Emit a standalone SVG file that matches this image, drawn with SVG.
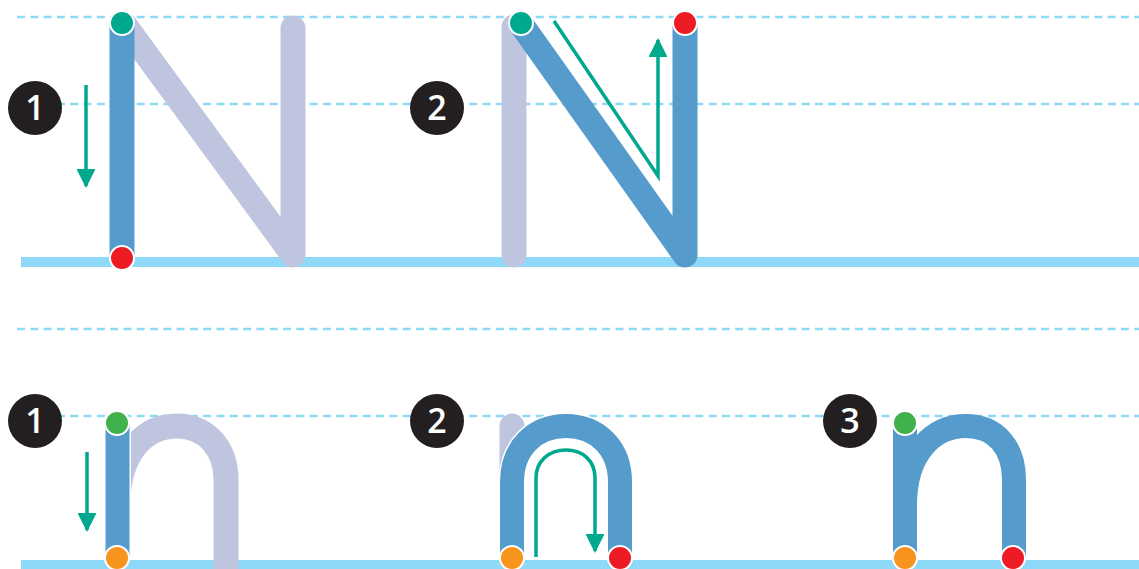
<svg xmlns="http://www.w3.org/2000/svg" width="1139" height="569" viewBox="0 0 1139 569">
<defs>
<style>
.dash{stroke:#8ed8f8;stroke-width:2.6;stroke-dasharray:8 5.3;fill:none}
.base{fill:#8ed8f8}
.lav{stroke:#c0c5df;stroke-width:25;fill:none;stroke-linecap:round;stroke-linejoin:round}
.blue{stroke:#559bcb;stroke-width:25;fill:none;stroke-linecap:round;stroke-linejoin:round}
.bluef{stroke:#559bcb;stroke-width:24;fill:none;stroke-linecap:butt;stroke-linejoin:round}
.arr{stroke:#00a88e;stroke-width:3.5;fill:none}
.dot{stroke:#fff;stroke-width:2}
.num{fill:#231f20}
.numt{fill:#fff;font-family:"Open Sans","Liberation Sans",sans-serif;font-weight:600;font-size:34px;text-anchor:middle}
</style>
<marker id="ah" viewBox="0 0 10 10" refX="9" refY="5" markerWidth="5.6" markerHeight="5.4" orient="auto" markerUnits="strokeWidth">
<path d="M0,0 L10,5 L0,10 Z" fill="#00a88e"/>
</marker>
</defs>
<g id="guides">
<line class="dash" x1="17" y1="17" x2="1139" y2="17"/>
<line class="dash" x1="17" y1="104" x2="1139" y2="104"/>
<rect class="base" x="21" y="257" width="1118" height="10"/>
<line class="dash" x1="17" y1="329" x2="1139" y2="329"/>
<line class="dash" x1="17" y1="416" x2="1139" y2="416"/>
<rect class="base" x="21" y="560" width="1118" height="9"/>
</g>
<g id="N1">
<path class="lav" d="M124,24 L293,255 L293,28"/>
<line class="blue" x1="122" y1="24" x2="122" y2="257" style="stroke-linecap:butt"/>
<circle class="dot" cx="122" cy="23" r="12" fill="#00a88e"/>
<circle class="dot" cx="122" cy="258" r="12" fill="#ed1c24"/>
<circle class="num" cx="35" cy="108" r="27"/>
<text class="numt" x="35" y="120">1</text>
</g>
<g id="N2">
<line class="lav" x1="514" y1="27" x2="514" y2="255"/>
<path class="blue" d="M521,24 L685,255 L685,24"/>
<circle class="dot" cx="521" cy="23" r="12" fill="#00a88e"/>
<circle class="dot" cx="685" cy="23" r="12" fill="#ed1c24"/>
<circle class="num" cx="437" cy="108" r="27"/>
<text class="numt" x="437" y="120">2</text>
</g>
<g id="n1">
<path class="lav" d="M118,505 C118,452 145,426 177,426 C206,426 226,448 226,480 L226,580" style="stroke-linecap:butt"/>
<line class="bluef" x1="117.5" y1="423" x2="117.5" y2="558" style="stroke:#fff;stroke-width:27"/>
<line class="bluef" x1="117.5" y1="423" x2="117.5" y2="558"/>
<circle class="dot" cx="117" cy="423" r="12" fill="#41b14b"/>
<circle class="dot" cx="117" cy="558" r="12" fill="#f7941d"/>
<circle class="num" cx="35" cy="421" r="27"/>
<text class="numt" x="35" y="433">1</text>
</g>
<g id="n2">
<line class="lav" x1="512" y1="426" x2="512" y2="490"/>
<path class="bluef" d="M512,558 L512,482 C512,448 535,426 566,426 C597,426 620,448 620,482 L620,558" style="stroke:#fff;stroke-width:27"/>
<path class="bluef" d="M512,558 L512,482 C512,448 535,426 566,426 C597,426 620,448 620,482 L620,558"/>
<circle class="dot" cx="512" cy="558" r="12" fill="#f7941d"/>
<circle class="dot" cx="620" cy="558" r="12" fill="#ed1c24"/>
<circle class="num" cx="437" cy="421" r="27"/>
<text class="numt" x="437" y="433">2</text>
</g>
<g id="n3">
<path class="bluef" d="M905,505 C905,452 934,426 966,426 C996,426 1014,448 1014,480 L1014,558"/>
<line class="bluef" x1="905" y1="423" x2="905" y2="558"/>
<circle class="dot" cx="905" cy="423" r="12" fill="#41b14b"/>
<circle class="dot" cx="905" cy="558" r="12" fill="#f7941d"/>
<circle class="dot" cx="1013" cy="558" r="12" fill="#ed1c24"/>
<circle class="num" cx="850" cy="421" r="27"/>
<text class="numt" x="850" y="433">3</text>
</g>
<g id="connectors">
<line class="arr" x1="86" y1="85" x2="86" y2="186" marker-end="url(#ah)"/>
<path class="arr" d="M554,21 L658,176 L658,40" marker-end="url(#ah)"/>
<line class="arr" x1="87" y1="452" x2="87" y2="530" marker-end="url(#ah)"/>
<path class="arr" d="M536,557 L536,478 C536,461 549,450 566,450 C583,450 595,461 595,478 L595,551" marker-end="url(#ah)"/>
</g>
</svg>
